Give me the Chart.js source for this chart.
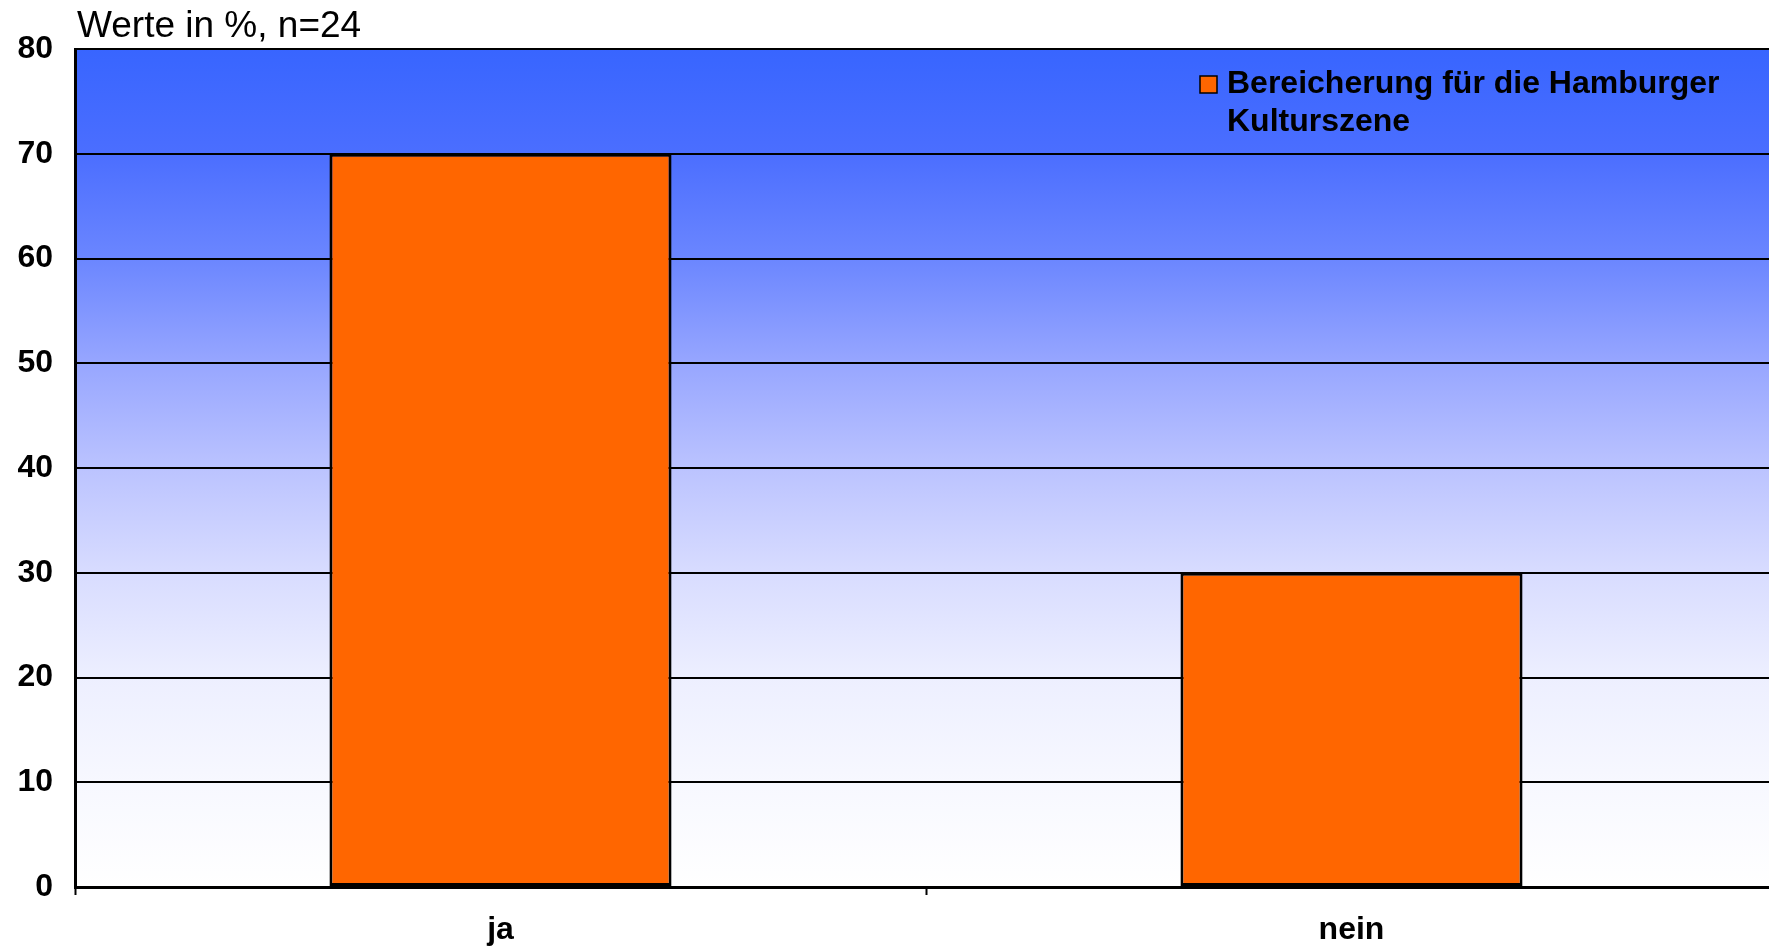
<!DOCTYPE html>
<html>
<head>
<meta charset="utf-8">
<script src="https://cdn.jsdelivr.net/npm/chart.js@4"></script>
<style>
    html, body { margin: 0; padding: 0; overflow: hidden; background: #fff; }
    canvas { display: block; }
</style>
</head>
<body>
<canvas id="kulturChart" width="1780" height="946"></canvas>
<script>
// Data
const categories = ['ja', 'nein'];
const values = [70, 30];
const seriesLabel = ['Bereicherung für die Hamburger', 'Kulturszene'];
const subtitleText = 'Werte in %, n=24';
const yTicks = [0, 10, 20, 30, 40, 50, 60, 70, 80];

// Blue-to-white background of the plot area
const bgPlugin = {
    id: 'bgGradient',
    beforeDraw(chart) {
        const { ctx, chartArea } = chart;
        const g = ctx.createLinearGradient(0, chartArea.top, 0, chartArea.bottom);
        g.addColorStop(0, '#3865FF');
        g.addColorStop(0.125, '#4B6EFF');
        g.addColorStop(0.25, '#6B86FF');
        g.addColorStop(0.375, '#97A6FF');
        g.addColorStop(0.5, '#BBC3FF');
        g.addColorStop(0.625, '#D8DCFF');
        g.addColorStop(0.75, '#EDEFFF');
        g.addColorStop(0.875, '#F7F8FF');
        g.addColorStop(1, '#FFFFFF');
        ctx.save();
        ctx.fillStyle = g;
        ctx.fillRect(chartArea.left, chartArea.top, chartArea.right - chartArea.left, chartArea.bottom - chartArea.top);
        ctx.restore();
    }
};

// Subtitle above the plot and the legend inside it
const textPlugin = {
    id: 'extraText',
    afterDraw(chart) {
        const { ctx, chartArea } = chart;
        ctx.save();
        ctx.fillStyle = '#000';
        ctx.textBaseline = 'alphabetic';
        ctx.textAlign = 'left';
        ctx.font = '37px "Liberation Sans", Arial, sans-serif';
        ctx.fillText(subtitleText, chartArea.left + 2, 37);

        // legend
        const color = chart.data.datasets[0].backgroundColor;
        ctx.fillStyle = color;
        ctx.fillRect(1200, 76, 17, 17);
        ctx.strokeStyle = '#000';
        ctx.lineWidth = 1.5;
        ctx.strokeRect(1200, 76, 17, 17);
        ctx.fillStyle = '#000';
        ctx.font = 'bold 32px "Liberation Sans", Arial, sans-serif';
        seriesLabel.forEach((line, i) => {
            ctx.fillText(line, 1227, 93 + i * 38);
        });
        ctx.restore();
    }
};

const ctx = document.getElementById('kulturChart').getContext('2d');
const kulturChart = new Chart(ctx, {
    type: 'bar',
    data: {
        labels: categories,
        datasets: [{
            label: seriesLabel.join(' '),
            data: values,
            backgroundColor: '#FF6600',
            borderColor: '#000',
            borderWidth: 3,
            borderSkipped: false,
            categoryPercentage: 1,
            barPercentage: 0.402
        }]
    },
    options: {
        responsive: false,
        animation: false,
        devicePixelRatio: 1,
        layout: {
            padding: { top: 49, right: 3, left: 0, bottom: 0 }
        },
        plugins: {
            legend: { display: false },
            tooltip: { enabled: false }
        },
        scales: {
            x: {
                afterFit(scale) { scale.height = 59; },
                grid: {
                    offset: true,
                    drawOnChartArea: false,
                    drawTicks: true,
                    tickLength: 8,
                    tickWidth: 2,
                    tickColor: '#000'
                },
                border: { color: '#000', width: 3 },
                ticks: {
                    color: '#000',
                    padding: 16,
                    font: { family: '"Liberation Sans", Arial, sans-serif', size: 32, weight: 'bold' }
                }
            },
            y: {
                min: 0,
                max: 80,
                afterFit(scale) { scale.width = 75; },
                afterBuildTicks(scale) {
                    scale.ticks = yTicks.map(v => ({ value: v }));
                },
                grid: {
                    color: '#000',
                    lineWidth: 2,
                    drawTicks: false
                },
                border: { color: '#000', width: 3 },
                ticks: {
                    color: '#000',
                    padding: 22,
                    font: { family: '"Liberation Sans", Arial, sans-serif', size: 32, weight: 'bold' }
                }
            }
        }
    },
    plugins: [bgPlugin, textPlugin]
});
</script>
</body>
</html>
